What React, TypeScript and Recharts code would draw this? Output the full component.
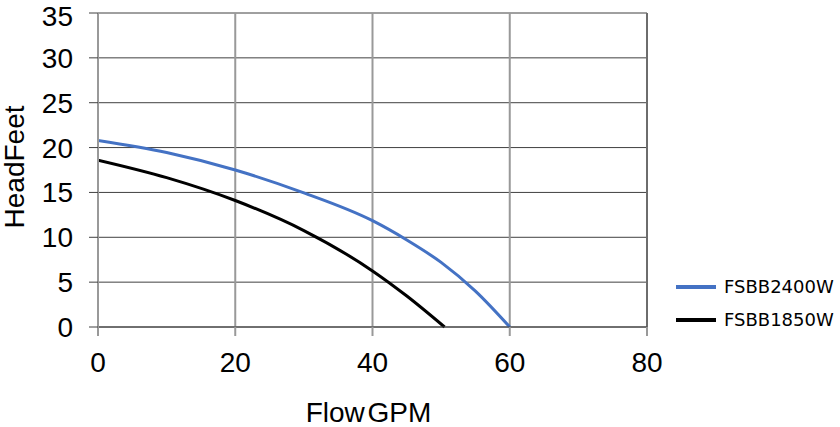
import React from 'react';
import { LineChart, Line, XAxis, YAxis, CartesianGrid, Legend, ReferenceLine } from 'recharts';

const flowTicks = [0, 20, 40, 60, 80];
const headTicks = [0, 5, 10, 15, 20, 25, 30, 35];

const fsbb2400Flow = [0, 10, 20, 30, 40, 45, 50, 55, 60];
const fsbb2400Head = [20.8, 19.45, 17.5, 14.95, 11.85, 9.7, 7.2, 4.0, 0];

const fsbb1850Flow = [0, 10, 20, 30, 40, 45, 50.5];
const fsbb1850Head = [18.6, 16.65, 14.1, 10.75, 6.25, 3.45, 0];

const seriesA = fsbb2400Flow.map((x, i) => ({ x, y: fsbb2400Head[i] }));
const seriesB = fsbb1850Flow.map((x, i) => ({ x, y: fsbb1850Head[i] }));

const BLUE = '#4472C4';
const FONT = 'Liberation Sans';

const LegendContent = () => (
  <div style={{ width: 170, fontFamily: 'DejaVu Sans', fontSize: 18, color: '#000', lineHeight: '20px' }}>
    {[{ n: 'FSBB2400W', c: BLUE }, { n: 'FSBB1850W', c: '#000' }].map((it) => (
      <div key={it.n} style={{ display: 'flex', alignItems: 'center', height: 33 }}>
        <div style={{ width: 40, height: 4, background: it.c, marginRight: 8 }} />
        <span>{it.n}</span>
      </div>
    ))}
  </div>
);

const XTitle = (props: any) => {
  const vb = props.viewBox || {};
  return (
    <text x={vb.x + vb.width / 2 - 4} y={vb.y + vb.height - 5} textAnchor="middle" fill="#000" fontSize={28} fontFamily={FONT} style={{ wordSpacing: -5 }}>
      Flow GPM
    </text>
  );
};

const YTitle = (props: any) => {
  const vb = props.viewBox || {};
  const cx = 14;
  const cy = vb.y + vb.height / 2 - 3;
  return (
    <text x={cx} y={cy} transform={`rotate(-90 ${cx} ${cy})`} textAnchor="middle" dominantBaseline="central" fill="#000" fontSize={28} fontFamily={FONT}>
      HeadFeet
    </text>
  );
};

export default function App() {
  return (
    <div style={{ position: 'absolute', left: 0, top: 0, width: 840, height: 427, background: '#fff' }}>
      <LineChart width={840} height={427} margin={{ top: 13, right: 23, left: 0, bottom: 0 }}>
        <CartesianGrid horizontal={true} vertical={false} stroke="#404040" strokeWidth={1} />
        <CartesianGrid horizontal={false} vertical={true} stroke="#999999" strokeWidth={2} />
        <XAxis
          type="number"
          dataKey="x"
          domain={[0, 80]}
          ticks={flowTicks}
          allowDataOverflow
          height={100}
          stroke="#999999"
          tickSize={9}
          tickLine={{ stroke: '#999999', strokeWidth: 2 }}
          axisLine={{ stroke: '#404040', strokeWidth: 1 }}
          tick={{ fill: '#000', fontSize: 28, fontFamily: FONT, dy: 14 }}
          label={<XTitle />}
        />
        <YAxis
          type="number"
          domain={[0, 35]}
          ticks={headTicks}
          width={98}
          tickSize={9}
          tickLine={{ stroke: '#404040', strokeWidth: 1 }}
          axisLine={{ stroke: '#999999', strokeWidth: 2 }}
          tick={{ fill: '#000', fontSize: 28, fontFamily: FONT, dx: -14 }}
          label={<YTitle />}
        />
        <ReferenceLine x={80} stroke="#404040" strokeWidth={1} />
        <Legend
          layout="vertical"
          align="right"
          verticalAlign="middle"
          content={<LegendContent />}
          wrapperStyle={{ left: 676, top: 270, width: 170 }}
        />
        <Line data={seriesA} dataKey="y" name="FSBB2400W" type="monotone" stroke={BLUE} strokeWidth={3} dot={false} isAnimationActive={false} />
        <Line data={seriesB} dataKey="y" name="FSBB1850W" type="monotone" stroke="#000" strokeWidth={3} dot={false} isAnimationActive={false} />
      </LineChart>
    </div>
  );
}
